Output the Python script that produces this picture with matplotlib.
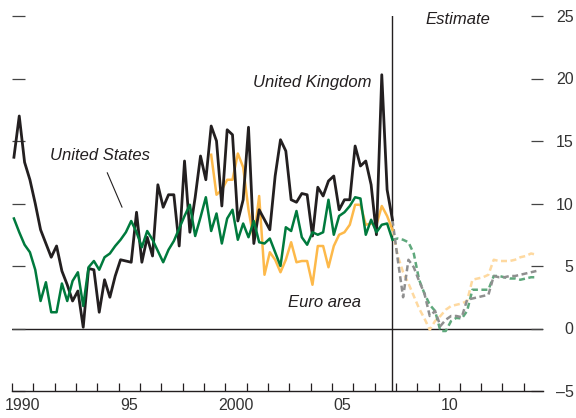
import numpy as np
import matplotlib
matplotlib.use("Agg")
import matplotlib.pyplot as plt

plt.rcParams['font.family'] = ['Liberation Sans', 'DejaVu Sans']

# Quarterly observations, 1990Q1 - 2007Q4 (percent)
uk_actual = [13.7, 17.0, 13.3, 11.9, 10.0, 7.9, 6.8, 5.7, 6.6, 4.6,
             3.5, 2.2, 3.0, 0.1, 4.8, 4.7, 1.3, 3.9, 2.5, 4.2,
             5.5, 5.4, 5.3, 9.3, 5.3, 7.3, 5.8, 11.5, 9.7, 10.7,
             10.7, 6.6, 13.4, 7.7, 10.5, 13.8, 11.9, 16.2, 15.0, 9.8,
             15.9, 15.5, 8.6, 10.3, 16.1, 6.8, 9.5, 8.7, 7.9, 12.2,
             15.1, 14.2, 10.3, 10.1, 10.8, 10.7, 7.4, 11.3, 10.6, 11.8,
             12.2, 9.5, 10.3, 10.3, 14.6, 13.0, 13.4, 11.5, 7.5, 20.3,
             11.1, 8.7]
us_actual = [8.8, 7.7, 6.7, 6.1, 4.7, 2.2, 3.7, 1.3, 1.3, 3.6,
             2.2, 3.8, 4.5, 1.8, 4.9, 5.4, 4.7, 5.7, 6.0, 6.6,
             7.1, 7.7, 8.6, 7.7, 6.5, 7.8, 7.1, 6.2, 5.3, 6.3,
             7.0, 8.0, 9.0, 9.9, 7.4, 8.9, 10.5, 7.8, 9.2, 6.8,
             8.8, 9.5, 7.1, 8.4, 7.3, 8.6, 6.9, 6.8, 7.2, 6.1,
             5.0, 8.1, 7.8, 9.4, 7.3, 6.7, 7.7, 7.5, 7.7, 10.3,
             7.5, 9.0, 9.3, 9.8, 10.5, 10.4, 7.5, 8.7, 7.7, 8.3,
             8.4, 7.1]
# Euro area series begins in 1999
euro_actual = [np.nan] * 37 + [
             13.9, 10.7, 11.1, 11.9, 11.9, 14.0, 12.9, 9.5, 7.1, 10.6,
             4.3, 6.1, 5.5, 4.5, 5.5, 6.9, 5.3, 5.4, 5.4, 3.5,
             6.6, 6.6, 4.9, 6.6, 7.5, 7.7, 8.3, 9.9, 9.9, 8.3,
             8.4, 8.3, 9.8, 9.0, 7.9]

# Quarterly estimates from 2007Q4 onward
uk_est = [8.7, 5.5, 2.5, 5.5, 4.9, 3.8, 2.8, 1.0, 1.4, 0.2,
          0.7, 1.0, 1.0, 0.9, 2.3, 2.4, 2.5, 2.6, 2.7, 4.2,
          4.1, 4.1, 4.2, 4.2, 4.3, 4.4, 4.5, 4.6]
us_est = [7.1, 7.2, 7.1, 6.9, 6.0, 3.9, 2.8, 1.9, 1.4, -0.2,
          -0.2, 0.6, 0.85, 0.8, 1.4, 3.1, 3.1, 3.1, 3.1, 4.2,
          4.2, 4.1, 4.0, 4.0, 3.9, 4.0, 4.1, 4.1]
euro_est = [7.9, 5.8, 4.5, 3.6, 2.6, 1.6, 0.8, -0.1, 0.6, 1.0,
            1.5, 1.8, 1.9, 2.0, 2.2, 3.9, 4.0, 4.1, 4.3, 5.5,
            5.4, 5.4, 5.4, 5.5, 5.7, 5.8, 6.0, 5.9]

year_ticks = list(range(1990, 2015))
year_labels = ['1990', '95', '2000', '05', '10']
label_years = [1990, 1995, 2000, 2005, 2010]
y_ticks = [-5, 0, 5, 10, 15, 20, 25]
y_labels = ['\u20135', '0', '5', '10', '15', '20', '25']

t_actual = 1990.09 + 0.25 * np.arange(len(uk_actual))
t_last = t_actual[-1]
t_est = t_last + 0.25 * np.arange(len(uk_est))

ink = '#231f20'
green = '#007a3d'
orange = '#fdb94a'

fig = plt.figure(figsize=(5.76, 4.18), dpi=100)
ax = fig.add_axes([12 / 576, 27 / 418, 531 / 576, 375 / 418])

ax.axhline(0, color=ink, lw=1.0, zorder=1)
ax.axvline(t_last, color=ink, lw=1.0, zorder=1)

dash = (0, (2.4, 1.4))
ax.plot(t_est, euro_est, color='#fed9a0', lw=1.8, linestyle=dash, zorder=2)
ax.plot(t_est, us_est, color='#5fa87c', lw=1.8, linestyle=dash, zorder=3)
ax.plot(t_est, uk_est, color='#8f8f8f', lw=1.8, linestyle=dash, zorder=4)

ax.plot(t_actual, euro_actual, color=orange, lw=1.8, zorder=5)
ax.plot(t_actual, uk_actual, color=ink, lw=2.0, zorder=6)
ax.plot(t_actual, us_actual, color=green, lw=1.8, zorder=7)

ax.set_xlim(1990, 2014.9)
ax.set_ylim(-5, 25)

for side in ('left', 'right', 'top'):
    ax.spines[side].set_visible(False)
ax.spines['bottom'].set_color(ink)
ax.spines['bottom'].set_linewidth(1.0)

ax.set_xticks(year_ticks)
ax.set_xticklabels([])
ax.set_xticks([y + 0.5 for y in label_years], minor=True)
ax.set_xticklabels(year_labels, minor=True)
ax.tick_params(axis='x', which='major', direction='in', length=6, width=0.9, color=ink)
ax.tick_params(axis='x', which='minor', length=0, pad=5, labelsize=11.5, labelcolor='#333333')

ax.set_yticks(y_ticks)
ax.set_yticklabels(y_labels)
ax.tick_params(axis='y', which='major', direction='in', length=9, width=0.9, color='#444444',
               left=True, right=True, labelleft=False, labelright=True,
               labelsize=11.5, labelcolor='#333333', pad=22)
for lbl in ax.get_yticklabels():
    lbl.set_horizontalalignment('right')

txt = dict(fontsize=12, style='italic', color=ink, ha='center', va='center')
ax.text(2004.07, 19.7, 'United Kingdom', **txt)
ax.text(2004.67, 2.1, 'Euro area', **txt)
ax.text(2010.9, 24.7, 'Estimate', **txt)
ax.annotate('United States', xy=(1995.16, 9.7), xytext=(1994.13, 13.8),
            arrowprops=dict(arrowstyle='-', color=ink, lw=0.8, shrinkA=5, shrinkB=0),
            **txt)

fig.savefig('out.png', dpi=100)
